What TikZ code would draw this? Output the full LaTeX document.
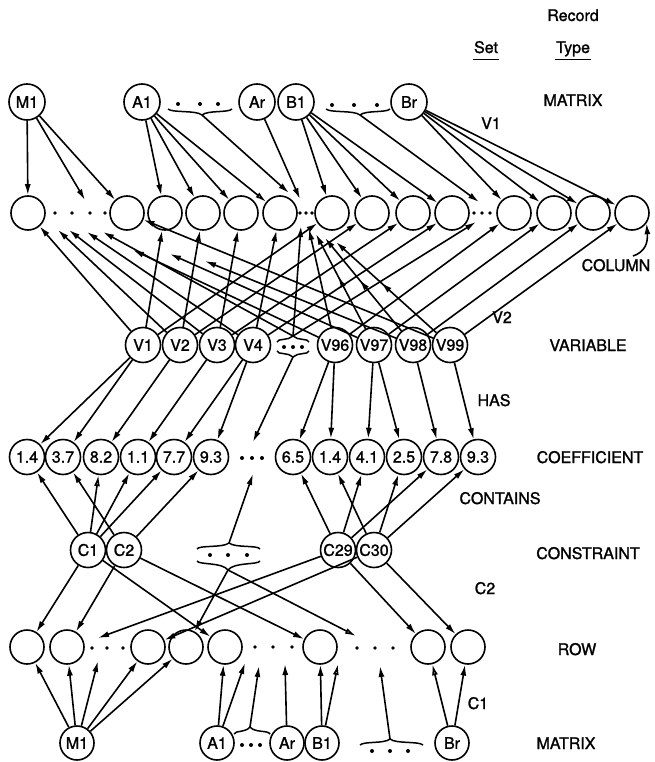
\documentclass[tikz,border=0pt]{standalone}
\usepackage{fontspec}
\setmainfont{TeX Gyre Heros}[FakeBold=1.4]
\usetikzlibrary{arrows.meta,decorations.markings}
\begin{document}
\begin{tikzpicture}[x=1pt,y=-1pt,
  rec/.style={circle,draw,line width=1.6pt,minimum size=34pt,inner sep=0pt,font=\fontsize{16}{16}\selectfont},
  bigrec/.style={rec,minimum size=36pt},
  midrec/.style={rec,minimum size=35pt},
  lbl/.style={font=\fontsize{16}{16}\selectfont,inner sep=0pt,anchor=base},
  wire/.style={line width=1.6pt},
  arr/.style={wire,-{Latex[length=11pt,width=6pt]}},
  oarr/.style={wire,-{Latex[open,length=11pt,width=6pt]}},
  midarr/.style={decoration={markings,mark=at position #1 with {\arrow{Latex[length=11pt,width=6pt]}}},postaction={decorate}},
  curl/.style={line width=1.5pt}
]
\useasboundingbox (0,0) rectangle (654,762);

% ---------- headings and set / record-type labels ----------
\node[lbl] (hRec)  at (573,21) {Record};
\node[lbl] (hSet)  at (486,53) {Set};
\node[lbl] (hType) at (573,53) {Type};
\draw[wire] (473,59.5) -- (499,59.5);
\draw[wire] (555,59.5) -- (591,59.5);
\node[lbl] (lMat)  at (573,106) {MATRIX};
\node[lbl] (lV1)   at (491,129) {V1};
\node[lbl] (lCol)  at (616,271) {COLUMN};
\node[lbl] (lV2)   at (502,323) {V2};
\node[lbl] (lVar)  at (588,351) {VARIABLE};
\node[lbl] (lHas)  at (494,406) {HAS};
\node[lbl] (lCoef) at (590,463) {COEFFICIENT};
\node[lbl] (lCont) at (500,504) {CONTAINS};
\node[lbl] (lCons) at (588,559) {CONSTRAINT};
\node[lbl] (lC2)   at (485,594) {C2};
\node[lbl] (lRow)  at (577,655) {ROW};
\node[lbl] (lC1)   at (478,709) {C1};
\node[lbl] (lMat2) at (566,749) {MATRIX};

% ---------- MATRIX (top) ----------
\node[bigrec] (tM1) at (27,102) {M1};
\node[bigrec] (tA1) at (142,102) {A1};
\node[bigrec] (tAr) at (257,102) {Ar};
\node[bigrec] (tB1) at (296,102) {B1};
\node[bigrec] (tBr) at (409,102) {Br};
\foreach \x in {178,200,218} \fill (\x,104) circle (2pt);
\foreach \x in {332,354,377} \fill (\x,105) circle (2pt);
\draw[curl] (168,109) .. controls (172,113) and (196,110) .. (202,115) .. controls (208,110) and (228,113) .. (232,109);
\draw[curl] (326,109) .. controls (330,113) and (354,110) .. (360,115) .. controls (366,110) and (386,113) .. (390,109);
\coordinate (tAbr) at (202,115);
\coordinate (tBbr) at (360,115);

% ---------- COLUMN ----------
\foreach \n/\x in {c1/28,c2/127,c3/165,c4/203,c5/241,c6/280,c7/332,c8/372,c9/413,c10/452,c11/514,c12/554,c13/593,c14/632}
  \node[rec] (\n) at (\x,213) {};
\foreach \x in {55,72,90,105} \fill (\x,213) circle (1.9pt);
\foreach \x in {300,306,312} \fill (\x,213) circle (1.8pt);
\foreach \x in {474,482,490} \fill (\x,213) circle (1.8pt);

% MATRIX -> COLUMN (set V1)
\coordinate (cMt) at (85,200);
\coordinate (cAt1) at (289,193);
\coordinate (cAt2) at (300,199);
\coordinate (cBt) at (479,202);
\draw[arr] (tM1) -- (c1);
\draw[arr] (tM1) -- (cMt);
\draw[arr] (tM1) -- (c2);
\draw[arr] (tA1) -- (c3);
\draw[arr] (tA1) -- (c4);
\draw[arr] (tA1) -- (c5);
\draw[oarr] (tA1) -- (c6);
\draw[arr] (tAbr) -- (cAt1);
\draw[arr] (tAr) -- (cAt2);
\draw[arr] (tB1) -- (c7);
\draw[arr] (tB1) -- (c8);
\draw[arr] (tB1) -- (c9);
\draw[arr] (tB1) -- (c10);
\draw[arr] (tBbr) -- (cBt);
\draw[arr] (tBr) -- (c11);
\draw[arr] (tBr) -- (c12);
\draw[arr] (tBr) -- (c13);
\draw[arr] (tBr) -- (c14);

% COLUMN label pointer
\coordinate (colPt) at (633,256);
\draw[arr] (colPt) .. controls (645,252) and (648,243) .. (c14.-35);

% ---------- VARIABLE ----------
\foreach \n/\x/\t in {v1/143/V1,v2/180/V2,v3/217/V3,v4/253/V4,v96/335/V96,v97/374/V97,v98/413/V98,v99/450/V99}
  \node[midrec] (\n) at (\x,345) {\t};
\foreach \x in {284,293,302} \fill (\x,347) circle (2pt);
\draw[curl] (277,342) .. controls (278,338) and (288,341) .. (293,336) .. controls (298,341) and (308,338) .. (309,342);
\draw[curl] (277,351) .. controls (278,355) and (288,352) .. (293,357) .. controls (298,352) and (308,355) .. (309,351);
\coordinate (vdt) at (293,336);
\coordinate (vdb) at (293,357);

% VARIABLE -> COLUMN (set V2): towards the M1 columns
\coordinate (cL2) at (58,230);
\coordinate (cL3) at (69,230);
\coordinate (cL4) at (87,232);
\coordinate (cLd) at (103,232);
\coordinate (cL96) at (133,250);
\coordinate (cL97) at (170,254);
\coordinate (cL98) at (205,261);
\draw[arr] (v1) -- (c1);
\draw[arr] (v2) -- (cL2);
\draw[arr] (v3) -- (cL3);
\draw[arr] (v4) -- (cL4);
\draw[arr] (vdt) -- (cLd);
\draw[arr] (v96) -- (cL96);
\draw[arr] (v97) -- (cL97);
\draw[arr] (v98) -- (cL98);
\draw[arr] (v99) -- (c2);
% towards the A columns
\coordinate (cUd) at (301,226);
\coordinate (cU96) at (309,229);
\coordinate (cU97) at (316,234);
\coordinate (cU98) at (325,238);
\coordinate (cU99) at (336,242);
\draw[arr] (v1) -- (c3);
\draw[arr] (v2) -- (c4);
\draw[arr] (v3) -- (c5);
\draw[arr] (v4) -- (c6);
\draw[arr] (vdt) -- (cUd);
\draw[arr] (v96) -- (cU96);
\draw[arr,midarr=0.55] (v97) -- (cU97);
\draw[arr,midarr=0.55] (v98) -- (cU98);
\draw[arr,midarr=0.55] (v99) -- (cU99);
% towards the B columns
\coordinate (cRd) at (476,222);
\draw[arr] (v1) -- (c7);
\draw[arr] (v2) -- (c8);
\draw[arr] (v3) -- (c9);
\draw[arr] (v4) -- (c10);
\draw[arr] (vdt) -- (cRd);
\draw[arr] (v96) -- (c11);
\draw[arr] (v97) -- (c12);
\draw[arr] (v98) -- (c13);
\draw[arr] (v99) -- (c14);

% ---------- COEFFICIENT ----------
\foreach \n/\x/\t in {k1/27/1.4,k2/63/3.7,k3/101/8.2,k4/138/1.1,k5/174/7.7,k6/211/9.3,k7/293/6.5,k8/330/1.4,k9/367/4.1,k10/404/2.5,k11/441/7.8,k12/478/9.3}
  \node[midrec] (\n) at (\x,457) {\t};
\foreach \x in {242,252,262} \fill (\x,458) circle (2pt);
\coordinate (kdt) at (253,442);
\coordinate (kdb) at (253,474);

% VARIABLE -> COEFFICIENT (set HAS)
\draw[arr] (v1) -- (k1);
\draw[arr] (v1) -- (k2);
\draw[arr] (v2) -- (k3);
\draw[arr] (v3) -- (k4);
\draw[arr] (v4) -- (k5);
\draw[arr] (v4) -- (k6);
\draw[arr] (vdb) -- (kdt);
\draw[arr] (v96) -- (k7);
\draw[arr] (v96) -- (k8);
\draw[arr] (v97) -- (k9);
\draw[arr] (v97) -- (k10);
\draw[arr] (v98) -- (k11);
\draw[arr] (v99) -- (k12);

% ---------- CONSTRAINT ----------
\node[midrec] (s1) at (88,550) {C1};
\node[midrec] (s2) at (124,550) {C2};
\node[midrec] (s29) at (338,550) {C29};
\node[midrec] (s30) at (374,550) {C30};
\foreach \x in {210,228,247} \fill (\x,555) circle (2pt);
\draw[curl] (197,549) .. controls (199,545) and (223,548) .. (229,543) .. controls (235,548) and (258,545) .. (260,549);
\draw[curl] (197,561) .. controls (199,565) and (222,562) .. (228,570) .. controls (234,562) and (258,565) .. (260,561);
\coordinate (sdt) at (229,543);
\coordinate (sdb) at (228,570);

% CONSTRAINT -> COEFFICIENT (set CONTAINS)
\draw[arr] (s1) -- (k1);
\draw[oarr] (s1) -- (k3);
\draw[arr] (s1) -- (k4);
\draw[arr] (s1) -- (k5);
\draw[arr] (s2) -- (k2);
\draw[arr] (s2) -- (k6);
\draw[arr] (sdt) -- (kdb);
\draw[arr] (s29) -- (k7);
\draw[arr] (s29) -- (k9);
\draw[arr] (s29) -- (k11);
\draw[arr] (s30) -- (k8);
\draw[arr] (s30) -- (k10);
\draw[arr] (s30) -- (k12);

% ---------- ROW ----------
\foreach \n/\x in {r1/27,r2/67,r3/148,r4/186,r5/225,r6/320,r7/428,r8/468}
  \node[rec] (\n) at (\x,647) {};
\foreach \x in {92,107,123} \fill (\x,648) circle (1.8pt);
\foreach \x in {255,273,292} \fill (\x,647) circle (1.8pt);
\foreach \x in {357,375,393} \fill (\x,648) circle (1.8pt);

% CONSTRAINT -> ROW (set C2)
\coordinate (rMt) at (98,638);
\coordinate (rBt) at (356,636);
\draw[arr] (s1) -- (r1);
\draw[arr] (s1) -- (r5);
\draw[arr] (s2) -- (r2);
\draw[arr] (s2) -- (r6);
\draw[arr] (sdb) -- (r4);
\draw[oarr] (sdb) -- (rBt);
\draw[arr] (s29) -- (rMt);
\draw[arr] (s29) -- (r7);
\draw[arr] (s30) -- (r3);
\draw[arr] (s30) -- (r8);

% ---------- MATRIX (bottom) ----------
\node[rec] (bM1) at (77,743) {M1};
\node[rec] (bA1) at (217,743) {A1};
\node[rec] (bAr) at (287,743) {Ar};
\node[rec] (bB1) at (322,743) {B1};
\node[rec] (bBr) at (452,743) {Br};
\foreach \x in {242,251,260} \fill (\x,745) circle (2pt);
\foreach \x in {372,390,408} \fill (\x,751) circle (2pt);
\draw[curl] (234,734) .. controls (236,730) and (245,733) .. (250,727) .. controls (255,733) and (268,730) .. (270,734);
\draw[curl] (360,745) .. controls (364,741) and (384,744) .. (390,739) .. controls (396,744) and (419,741) .. (423,745);
\coordinate (bAbr) at (250,727);
\coordinate (bBbr) at (390,739);

% MATRIX -> ROW (set C1)
\coordinate (rMd) at (98,661);
\coordinate (rAd1) at (245,663);
\coordinate (rAd2) at (259,666);
\coordinate (rAd3) at (285,664);
\coordinate (rBd1) at (338,664);
\coordinate (rBd2) at (380,666);
\draw[arr] (bM1) -- (r1);
\draw[arr] (bM1) -- (r2);
\draw[arr] (bM1) -- (rMd);
\draw[arr] (bM1) -- (r3);
\draw[arr] (bM1) -- (r4);
\draw[arr] (bA1) -- (r5);
\draw[arr] (bA1) -- (rAd1);
\draw[arr] (bAbr) -- (rAd2);
\draw[arr] (bAr) -- (rAd3);
\draw[arr] (bB1) -- (r6);
\draw[oarr] (bB1) -- (rBd1);
\draw[arr] (bBbr) -- (rBd2);
\draw[oarr] (bBr) -- (r7);
\draw[arr] (bBr) -- (r8);
\end{tikzpicture}
\end{document}
